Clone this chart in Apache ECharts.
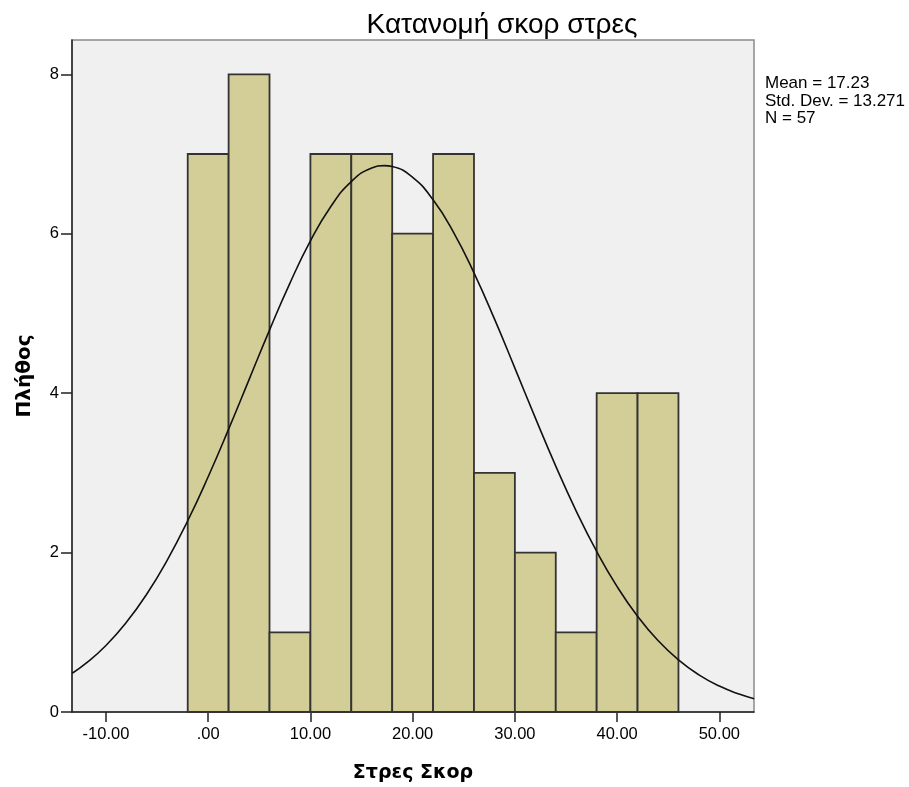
<!DOCTYPE html>
<html>
<head>
<meta charset="utf-8">
<script src="https://cdn.jsdelivr.net/npm/echarts@6/dist/echarts.min.js"></script>
<style>
html,body{margin:0;padding:0;background:#fff;}
#chart{width:909px;height:787px;}
</style>
</head>
<body>
<div id="chart"></div>
<script>
// Histogram bins (score ranges) and counts
const binStarts = [-2, 2, 6, 10, 14, 18, 22, 26, 30, 34, 38, 42];
const binWidth = 4;
const counts = [7, 8, 1, 7, 7, 6, 7, 3, 2, 1, 4, 4];

// Normal curve (x, count)
const curveX = [-13.3, -12, -10, -8, -6, -4, -2, 0, 2, 4, 6, 8, 10, 12, 14, 16, 17.23, 18, 20, 22, 24, 26, 28, 30, 32, 34, 36, 38, 40, 42, 44, 46, 48, 50, 52, 53.4];
const curveY = [0.486, 0.606, 0.835, 1.125, 1.481, 1.906, 2.399, 2.951, 3.548, 4.170, 4.791, 5.381, 5.909, 6.342, 6.654, 6.825, 6.854, 6.843, 6.706, 6.425, 6.018, 5.509, 4.931, 4.314, 3.690, 3.085, 2.521, 2.014, 1.573, 1.201, 0.896, 0.654, 0.466, 0.325, 0.222, 0.167];

const xTicks = [-10, 0, 10, 20, 30, 40, 50];
const yTicks = [0, 2, 4, 6, 8];

const statsLines = ['Mean = 17.23', 'Std. Dev. = 13.271', 'N = 57'];
const titleText = 'Κατανομή σκορ στρες';
const xTitle = 'Στρες Σκορ';
const yTitle = 'Πλήθος';

const barData = binStarts.map((s, i) => [s, s + binWidth, counts[i]]);
const lineData = curveX.map((x, i) => [x, curveY[i]]);

function fmtX(v) {
  if (v === 0) return '.00';
  return v.toFixed(2);
}

const chart = echarts.init(document.getElementById('chart'), null, {renderer: 'canvas'});
chart.setOption({
  animation: false,
  backgroundColor: '#ffffff',
  title: {
    text: titleText,
    left: 497, top: 6, textAlign: 'center',
    textStyle: {fontFamily: 'Liberation Sans, Arial, sans-serif', fontSize: 28, fontWeight: 'normal', color: '#000'}
  },
  graphic: [{
    type: 'text', left: 765, top: 75,
    style: {text: statsLines.join('\n'), fontFamily: 'Liberation Sans, Arial, sans-serif', fontSize: 17, lineHeight: 17.5, fill: '#000'}
  }],
  grid: {
    left: 72, right: 155, top: 40, bottom: 75,
    outerBoundsMode: 'none', containLabel: false,
    show: true, backgroundColor: '#F0F0F0', borderColor: '#8a8a8a', borderWidth: 1.5
  },
  xAxis: {
    type: 'value', min: -13.32, max: 53.39,
    name: xTitle, nameLocation: 'middle', nameGap: 52,
    nameTextStyle: {fontFamily: 'DejaVu Sans, sans-serif', fontSize: 19, fontWeight: 'bold', color: '#000'},
    splitLine: {show: false},
    axisLine: {show: true, onZero: false, lineStyle: {color: '#222', width: 1.5}},
    axisTick: {show: true, length: 10, customValues: xTicks, lineStyle: {color: '#222', width: 1.5}},
    axisLabel: {customValues: xTicks, formatter: fmtX, margin: 14, fontFamily: 'Liberation Sans, Arial, sans-serif', fontSize: 16.5, color: '#000'}
  },
  yAxis: {
    type: 'value', min: 0, max: 8.43, interval: 2,
    name: yTitle, nameLocation: 'middle', nameGap: 37, nameRotate: 90,
    nameTextStyle: {fontFamily: 'DejaVu Sans, sans-serif', fontSize: 20, fontWeight: 'bold', color: '#000'},
    splitLine: {show: false},
    axisLine: {show: true, onZero: false, lineStyle: {color: '#222', width: 1.5}},
    axisTick: {show: true, length: 11, customValues: yTicks, lineStyle: {color: '#222', width: 1.5}},
    axisLabel: {customValues: yTicks, margin: 13, fontFamily: 'Liberation Sans, Arial, sans-serif', fontSize: 16.5, color: '#000'}
  },
  series: [{
    type: 'custom',
    data: barData,
    encode: {x: [0, 1], y: 2},
    renderItem: function (params, api) {
      const p0 = api.coord([api.value(0), 0]);
      const p1 = api.coord([api.value(1), api.value(2)]);
      return {
        type: 'rect',
        shape: {x: p0[0], y: p1[1], width: p1[0] - p0[0], height: p0[1] - p1[1]},
        style: {fill: '#D3CE97', stroke: '#333', lineWidth: 1.8}
      };
    },
    z: 2
  }, {
    type: 'line',
    data: lineData,
    smooth: true,
    showSymbol: false,
    lineStyle: {color: '#111', width: 1.6},
    z: 3
  }]
});
</script>
</body>
</html>
